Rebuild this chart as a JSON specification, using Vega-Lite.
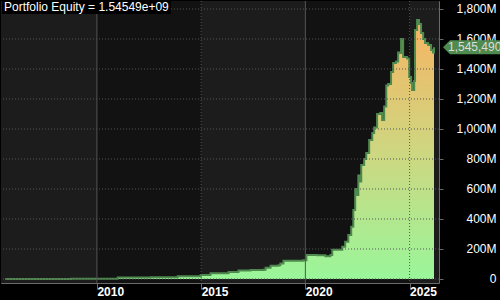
{
  "$schema": "https://vega.github.io/schema/vega-lite/v6.json",
  "autosize": {"type": "none"},
  "padding": {"left": 1, "top": 1, "right": 61, "bottom": 17},
  "width": 438,
  "height": 282,
  "background": "#000000",
  "config": {
    "view": {"stroke": "#6a6a6a", "strokeWidth": 1},
    "font": "Liberation Sans",
    "axisX": {"domain": false, "grid": false, "tickColor": "#6a6a6a", "tickSize": 6, "labelColor": "#ffffff", "labelFont": "Liberation Sans",
              "labelFontSize": 12, "labelFontWeight": "bold", "labelAlign": "left", "labelBaseline": "top",
              "labelPadding": -3, "labelDx": 3, "labelFlush": false, "labelOverlap": false},
    "axisY": {"domain": false, "grid": false, "tickColor": "#6a6a6a", "tickSize": 4,
              "labelColor": "#ffffff", "labelFont": "Liberation Sans", "labelFontSize": 12,
              "labelAlign": "right", "labelBaseline": "middle", "labelPadding": 53, "labelOverlap": false, "labelFlush": false}
  },
  "datasets": {
    "bands": [
      {"b0": 2005.4, "b1": 2010, "shade": "light"},
      {"b0": 2010, "b1": 2015, "shade": "dark"},
      {"b0": 2015, "b1": 2020, "shade": "light"},
      {"b0": 2020, "b1": 2025, "shade": "dark"},
      {"b0": 2025, "b1": 2026.41, "shade": "light"}
    ],
    "equity": [
      {"year": 2005.60, "value": 0},
      {"year": 2008.76, "value": 2},
      {"year": 2010.96, "value": 2},
      {"year": 2011.00, "value": 10},
      {"year": 2011.48, "value": 10},
      {"year": 2012.58, "value": 11},
      {"year": 2013.88, "value": 18},
      {"year": 2014.98, "value": 27},
      {"year": 2015.45, "value": 38},
      {"year": 2016.32, "value": 47},
      {"year": 2016.79, "value": 56},
      {"year": 2017.37, "value": 60},
      {"year": 2017.99, "value": 62},
      {"year": 2018.09, "value": 75},
      {"year": 2018.33, "value": 89},
      {"year": 2018.71, "value": 92},
      {"year": 2018.80, "value": 104},
      {"year": 2018.95, "value": 122},
      {"year": 2019.90, "value": 125},
      {"year": 2020.05, "value": 160},
      {"year": 2020.57, "value": 158},
      {"year": 2020.96, "value": 152},
      {"year": 2021.20, "value": 160},
      {"year": 2021.29, "value": 195},
      {"year": 2021.67, "value": 195},
      {"year": 2021.77, "value": 215},
      {"year": 2021.91, "value": 249},
      {"year": 2022.06, "value": 293},
      {"year": 2022.20, "value": 349},
      {"year": 2022.30, "value": 460},
      {"year": 2022.39, "value": 600},
      {"year": 2022.47, "value": 560},
      {"year": 2022.54, "value": 690},
      {"year": 2022.61, "value": 650},
      {"year": 2022.68, "value": 760},
      {"year": 2022.82, "value": 800},
      {"year": 2022.92, "value": 840},
      {"year": 2023.06, "value": 927},
      {"year": 2023.21, "value": 973},
      {"year": 2023.30, "value": 1010},
      {"year": 2023.44, "value": 1100},
      {"year": 2023.59, "value": 1107},
      {"year": 2023.68, "value": 1060},
      {"year": 2023.78, "value": 1150},
      {"year": 2023.88, "value": 1290},
      {"year": 2023.97, "value": 1300},
      {"year": 2024.11, "value": 1380},
      {"year": 2024.21, "value": 1440},
      {"year": 2024.35, "value": 1450},
      {"year": 2024.45, "value": 1510},
      {"year": 2024.55, "value": 1507},
      {"year": 2024.59, "value": 1600},
      {"year": 2024.69, "value": 1480},
      {"year": 2024.88, "value": 1470},
      {"year": 2024.98, "value": 1347},
      {"year": 2025.07, "value": 1307},
      {"year": 2025.12, "value": 1260},
      {"year": 2025.22, "value": 1320},
      {"year": 2025.26, "value": 1660},
      {"year": 2025.36, "value": 1727},
      {"year": 2025.45, "value": 1700},
      {"year": 2025.55, "value": 1640},
      {"year": 2025.65, "value": 1600},
      {"year": 2025.74, "value": 1573},
      {"year": 2025.89, "value": 1560},
      {"year": 2026.03, "value": 1527},
      {"year": 2026.12, "value": 1510},
      {"year": 2026.17, "value": 1545.49}
    ],
    "vlines": [
      {"year": 2010, "kind": "solid"},
      {"year": 2015, "kind": "dotted"},
      {"year": 2020, "kind": "solid"},
      {"year": 2025, "kind": "dotted"}
    ],
    "hlines": [
      {"v": 0}, {"v": 200}, {"v": 400}, {"v": 600}, {"v": 800},
      {"v": 1000}, {"v": 1200}, {"v": 1400}, {"v": 1600}, {"v": 1800}
    ],
    "last": [
      {"year": 2026.17, "value": 1545.49, "label": "1,545,490"}
    ],
    "titles": [
      {"label": "Portfolio Equity = 1.54549e+09"}
    ]
  },
  "layer": [
    {
      "data": {"name": "bands"},
      "mark": {"type": "rect"},
      "encoding": {
        "x": {"field": "b0", "type": "quantitative", "scale": {"domain": [2005.4, 2026.41], "nice": false, "zero": false},
              "axis": {"values": [2010, 2015, 2020, 2025], "format": "d", "title": null}},
        "x2": {"field": "b1"},
        "color": {"field": "shade", "type": "nominal", "scale": {"domain": ["light", "dark"], "range": ["#1c1c1c", "#121212"]}, "legend": null}
      }
    },
    {
      "data": {"name": "equity"},
      "mark": {"type": "area", "interpolate": "step-after",
               "color": {"gradient": "linear", "x1": 0, "y1": 1, "x2": 0, "y2": 0,
                         "stops": [{"offset": 0, "color": "#9af69a"}, {"offset": 0.5, "color": "#cfd680"}, {"offset": 1, "color": "#f7b462"}]}},
      "encoding": {
        "x": {"field": "year", "type": "quantitative", "axis": {"values": [2010, 2015, 2020, 2025], "format": "d", "title": null}},
        "y": {"field": "value", "type": "quantitative", "scale": {"domain": [-26.7, 1853.3], "nice": false, "zero": false},
              "axis": {"orient": "right", "values": [0, 200, 400, 600, 800, 1000, 1200, 1400, 1600, 1800], "title": null,
                       "labelExpr": "datum.value == 0 ? '0' : format(datum.value, ',') + 'M'"}},
        "y2": {"datum": 0}
      }
    },
    {
      "data": {"name": "equity"},
      "mark": {"type": "line", "interpolate": "step-after", "color": "#4e8a4e", "strokeWidth": 2},
      "encoding": {
        "x": {"field": "year", "type": "quantitative", "axis": {"values": [2010, 2015, 2020, 2025], "format": "d", "title": null}},
        "y": {"field": "value", "type": "quantitative",
              "axis": {"orient": "right", "values": [0, 200, 400, 600, 800, 1000, 1200, 1400, 1600, 1800], "title": null,
                       "labelExpr": "datum.value == 0 ? '0' : format(datum.value, ',') + 'M'"}}
      }
    },
    {
      "data": {"name": "hlines"},
      "mark": {"type": "rule", "color": "#555555", "strokeWidth": 1, "strokeDash": [1, 2]},
      "encoding": {
        "y": {"field": "v", "type": "quantitative",
              "axis": {"orient": "right", "values": [0, 200, 400, 600, 800, 1000, 1200, 1400, 1600, 1800], "title": null,
                       "labelExpr": "datum.value == 0 ? '0' : format(datum.value, ',') + 'M'"}}
      }
    },
    {
      "data": {"name": "vlines"},
      "transform": [{"filter": "datum.kind == 'dotted'"}],
      "mark": {"type": "rule", "color": "#555555", "strokeWidth": 1, "strokeDash": [1, 2]},
      "encoding": {
        "x": {"field": "year", "type": "quantitative", "axis": {"values": [2010, 2015, 2020, 2025], "format": "d", "title": null}}
      }
    },
    {
      "data": {"name": "vlines"},
      "transform": [{"filter": "datum.kind == 'solid'"}],
      "mark": {"type": "rule", "color": "#555555", "strokeWidth": 1},
      "encoding": {
        "x": {"field": "year", "type": "quantitative", "axis": {"values": [2010, 2015, 2020, 2025], "format": "d", "title": null}}
      }
    },
    {
      "data": {"name": "titles"},
      "mark": {"type": "rect", "color": "#000000"},
      "encoding": {
        "x": {"datum": 2005.45, "type": "quantitative", "axis": {"values": [2010, 2015, 2020, 2025], "format": "d", "title": null}},
        "x2": {"datum": 2013.55},
        "y": {"datum": 1853.3, "type": "quantitative",
              "axis": {"orient": "right", "values": [0, 200, 400, 600, 800, 1000, 1200, 1400, 1600, 1800], "title": null,
                       "labelExpr": "datum.value == 0 ? '0' : format(datum.value, ',') + 'M'"}},
        "y2": {"datum": 1766}
      }
    },
    {
      "data": {"name": "titles"},
      "mark": {"type": "text", "align": "left", "baseline": "top", "dx": 3, "dy": 1, "fontSize": 12, "font": "Liberation Sans", "color": "#ffffff"},
      "encoding": {
        "x": {"datum": 2005.4, "type": "quantitative", "axis": {"values": [2010, 2015, 2020, 2025], "format": "d", "title": null}},
        "y": {"datum": 1853.3, "type": "quantitative",
              "axis": {"orient": "right", "values": [0, 200, 400, 600, 800, 1000, 1200, 1400, 1600, 1800], "title": null,
                       "labelExpr": "datum.value == 0 ? '0' : format(datum.value, ',') + 'M'"}},
        "text": {"field": "label"}
      }
    },
    {
      "data": {"name": "last"},
      "mark": {"type": "point", "shape": "M9,0L16,-7L90,-7L90,7L16,7Z", "size": 4, "filled": true, "color": "#4f8a4f", "opacity": 1, "clip": false},
      "encoding": {
        "x": {"field": "year", "type": "quantitative", "axis": {"values": [2010, 2015, 2020, 2025], "format": "d", "title": null}},
        "y": {"field": "value", "type": "quantitative",
              "axis": {"orient": "right", "values": [0, 200, 400, 600, 800, 1000, 1200, 1400, 1600, 1800], "title": null,
                       "labelExpr": "datum.value == 0 ? '0' : format(datum.value, ',') + 'M'"}}
      }
    },
    {
      "data": {"name": "last"},
      "mark": {"type": "text", "align": "left", "baseline": "middle", "dx": 14, "fontSize": 12, "font": "Liberation Sans", "color": "#dddddd"},
      "encoding": {
        "x": {"field": "year", "type": "quantitative", "axis": {"values": [2010, 2015, 2020, 2025], "format": "d", "title": null}},
        "y": {"field": "value", "type": "quantitative",
              "axis": {"orient": "right", "values": [0, 200, 400, 600, 800, 1000, 1200, 1400, 1600, 1800], "title": null,
                       "labelExpr": "datum.value == 0 ? '0' : format(datum.value, ',') + 'M'"}},
        "text": {"field": "label"}
      }
    }
  ]
}
